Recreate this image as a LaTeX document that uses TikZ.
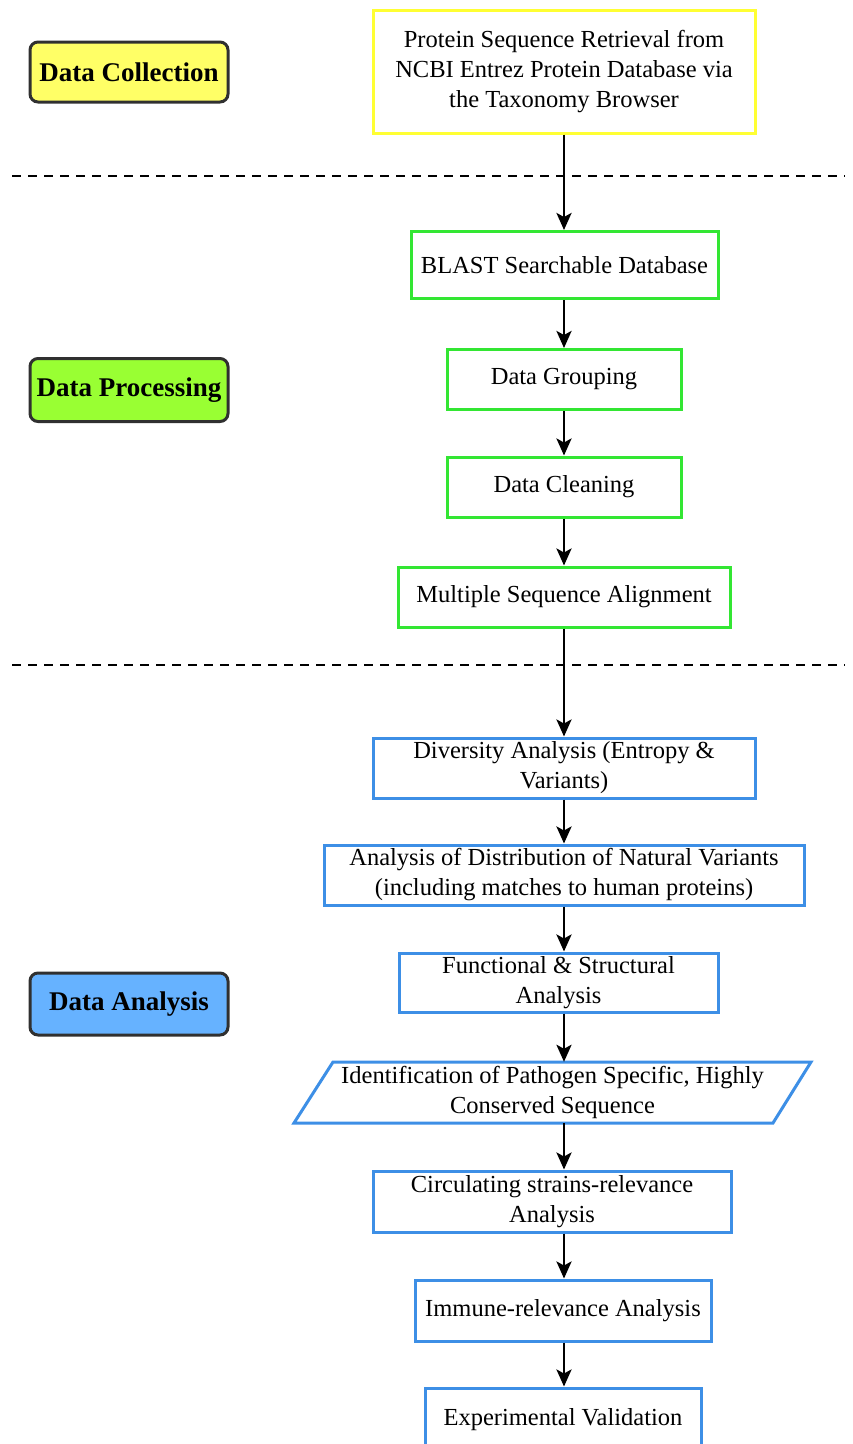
\documentclass[tikz,border=0pt]{standalone}
\usepackage{fontspec}
\setmainfont{Liberation Serif}
\usetikzlibrary{arrows.meta}
\definecolor{ybord}{HTML}{FFFF33}
\definecolor{gbord}{HTML}{33E633}
\definecolor{bbord}{HTML}{3D8FE6}
\definecolor{yfill}{HTML}{FFFF66}
\definecolor{gfill}{HTML}{99FF33}
\definecolor{bfill}{HTML}{66B2FF}
\definecolor{lbord}{HTML}{303030}
\tikzset{
  x=1pt, y=-1pt,
  stepfont/.style={font=\fontsize{24.5}{30}\selectfont},
  stepbox/.style={draw, line width=3pt, fill=white, inner sep=0pt, align=center, stepfont},
  ybox/.style={stepbox, draw=ybord},
  gbox/.style={stepbox, draw=gbord},
  bbox/.style={stepbox, draw=bbord},
  phase/.style={draw=lbord, line width=3pt, rounded corners=8pt, inner sep=0pt,
    minimum width=198pt, align=center, font=\fontsize{27}{32}\selectfont\bfseries},
  flow/.style={line width=2.8pt, -{Stealth[length=17pt,width=15pt,inset=4pt]}},
  sep/.style={line width=2pt, dash pattern=on 9pt off 7pt}
}
\begin{document}
\begin{tikzpicture}
\useasboundingbox (0,0) rectangle (853,1444);
\clip (0,0) rectangle (853,1444);
% section separators
\coordinate (s1a) at (12,176);
\coordinate (s1b) at (845,176);
\coordinate (s2a) at (12,665);
\coordinate (s2b) at (845,665);
\draw[sep] (s1a) -- (s1b);
\draw[sep] (s2a) -- (s2b);
\coordinate (ax) at (564,0);
% phase labels
\node[phase, fill=yfill, minimum height=60pt] (coll) at (129,72) {Data Collection};
\node[phase, fill=gfill, minimum height=63pt] (proc) at (129,390) {Data Processing};
\node[phase, fill=bfill, minimum height=62pt] (anal) at (129,1004) {Data Analysis};
% steps
\node[ybox, minimum width=382pt, minimum height=123pt] (top) at (564,71.5)
  {Protein Sequence Retrieval from\\NCBI Entrez Protein Database via\\the Taxonomy Browser};
\node[gbox, minimum width=307pt, minimum height=67pt] (blast) at (564.5,265) {BLAST Searchable Database};
\node[gbox, minimum width=234pt, minimum height=60pt] (group) at (564,379.5) {Data Grouping};
\node[gbox, minimum width=234pt, minimum height=60pt] (clean) at (564,487) {Data Cleaning};
\node[gbox, minimum width=332pt, minimum height=60pt] (msa) at (564,597) {Multiple Sequence Alignment};
\node[bbox, minimum width=382pt, minimum height=60pt] (div) at (564,768) {Diversity Analysis (Entropy \&\\Variants)};
\node[bbox, minimum width=480pt, minimum height=60pt] (dist) at (564,875) {Analysis of Distribution of Natural Variants\\(including matches to human proteins)};
\node[bbox, minimum width=319pt, minimum height=59pt] (func) at (558.5,982.5) {Functional \& Structural\\Analysis};
% parallelogram
\coordinate (p1) at (333,1062);
\coordinate (p2) at (811,1062);
\coordinate (p3) at (773,1123);
\coordinate (p4) at (294,1123);
\draw[line width=3pt, draw=bbord, fill=white] (p1) -- (p2) -- (p3) -- (p4) -- cycle;
\node[inner sep=0pt, minimum width=400pt, minimum height=61pt, align=center, stepfont]
  (ident) at (552.5,1092.5)
  {Identification of Pathogen Specific, Highly\\Conserved Sequence};
\node[bbox, minimum width=358pt, minimum height=61pt] (circ) at (552,1201.5) {Circulating strains-relevance\\Analysis};
\node[bbox, minimum width=296pt, minimum height=61pt] (imm) at (563,1310.5) {Immune-relevance Analysis};
\node[bbox, minimum width=276pt, minimum height=64pt] (exp) at (563,1420) {Experimental Validation};
% connectors
\draw[flow] (top.south -| ax) -- (blast.north -| ax);
\draw[flow] (blast.south -| ax) -- (group.north -| ax);
\draw[flow] (group.south -| ax) -- (clean.north -| ax);
\draw[flow] (clean.south -| ax) -- (msa.north -| ax);
\draw[flow] (msa.south -| ax) -- (div.north -| ax);
\draw[flow] (div.south -| ax) -- (dist.north -| ax);
\draw[flow] (dist.south -| ax) -- (func.north -| ax);
\draw[flow] (func.south -| ax) -- (ident.north -| ax);
\draw[flow] (ident.south -| ax) -- (circ.north -| ax);
\draw[flow] (circ.south -| ax) -- (imm.north -| ax);
\draw[flow] (imm.south -| ax) -- (exp.north -| ax);
\end{tikzpicture}
\end{document}
